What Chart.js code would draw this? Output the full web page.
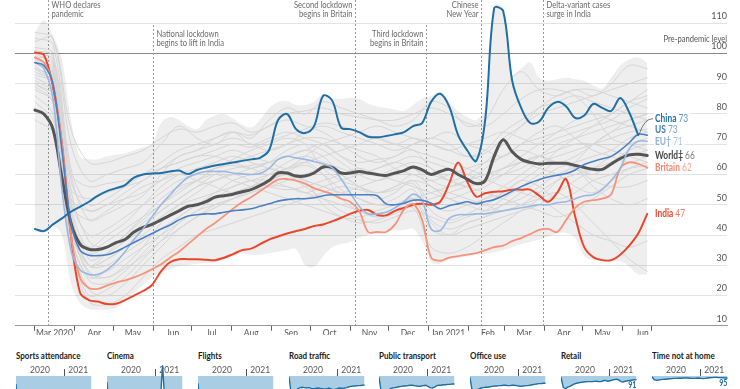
<!DOCTYPE html>
<html>
<head>
<meta charset="utf-8">
<script src="https://cdn.jsdelivr.net/npm/chart.js@4.4.0/dist/chart.umd.min.js"></script>
<style>
  body { margin: 0; width: 740px; height: 389px; overflow: hidden; background: #fff; position: relative;
         font-family: Lato, sans-serif; }
  #main { position: absolute; left: 0; top: 0; }
  .panel { position: absolute; top: 348px; width: 80px; }
  .panel h4 { margin: 0; font-size: 10px; font-weight: bold; color: #1a1a1a; line-height: 14px; white-space: nowrap;
              transform: scaleX(0.8); transform-origin: 0 0; }
  .panel canvas { position: absolute; left: 0; top: 14px; }
</style>
</head>
<body>
<canvas id="main" width="740" height="345"></canvas>
<script>
const FONT = 'Lato, sans-serif';

// days since 1 March 2020, one point a week
const weekDays = Array.from({ length: 69 }, (_, i) => i * 7);
const greyDays = weekDays.filter((d, i) => i % 2 === 0);

const monthDays = [0, 31, 61, 92, 122, 153, 184, 214, 245, 275, 306, 337, 365, 396, 426, 457, 479];
const monthLabels = ['Mar 2020', 'Apr', 'May', 'Jun', 'Jul', 'Aug', 'Sep', 'Oct', 'Nov', 'Dec',
                     'Jan 2021', 'Feb', 'Mar', 'Apr', 'May', 'Jun', ''];
const yTicks = [10, 20, 30, 40, 50, 60, 70, 80, 90, 100, 110];

const eventDays = [10, 92, 248.5, 304, 347, 395];
const eventTexts = [
  ['WHO declares', 'pandemic'],
  ['National lockdown', 'begins to lift in India'],
  ['Second lockdown', 'begins in Britain'],
  ['Third lockdown', 'begins in Britain'],
  ['Chinese', 'New Year'],
  ['Delta-variant cases', 'surge in India']
];

const seriesNames = ['China', 'US', 'EU\u2020', 'World\u2021', 'Britain', 'India'];

const china = [42, 41.3, 43.5, 45.5, 47.7, 49.3, 51, 53, 54.5, 55.5,
  56.5, 59, 60, 60.3, 60.5, 61, 61.3, 60.2, 61.5, 62.3,
  63, 63.5, 64, 64.5, 65, 65.5, 68, 78, 80, 75,
  73.7, 76, 86, 84.5, 75.5, 75, 74, 72.5, 72.3, 72.7,
  73.3, 74, 76, 77, 84, 86.7, 82.5, 73, 68, 64.5,
  78, 115, 114, 91, 82, 77, 77.5, 82, 84, 82.5,
  78.7, 79.5, 83.3, 82, 81, 85.3, 80.5, 73, null];
const us = [97, 96, 90, 68, 44, 35, 33.3, 33.2, 33.5, 34.5,
  36, 37.5, 39, 40.5, 42, 43.3, 45, 46.3, 46.7, 47,
  47, 47.5, 48, 48.3, 48.7, 49.5, 50.3, 51.2, 51.7, 52,
  52, 52.3, 53, 53.3, 53.3, 53.3, 53.3, 53.3, 53, 50.3,
  50, 50.5, 51.5, 51.5, 50.5, 48.7, 49.7, 50.3, 51, 50.3,
  51, 51.7, 53, 54.5, 56, 57.3, 58.3, 59.2, 59.8, 60.3,
  61.5, 63.3, 64.3, 65.2, 66, 68, 70.5, 73.3, 73];
const eu = [97, 95, 85, 55, 35, 28.5, 27, 27, 28.5, 31,
  34.5, 38.5, 42, 46, 50, 53.3, 56.5, 59, 60.3, 61,
  61, 61, 60.5, 60.2, 60, 60.3, 62, 65, 66, 65.5,
  65, 64.3, 63.5, 62.3, 58.5, 54, 49.5, 47, 47, 47.5,
  49, 51, 53.5, 51.5, 42, 41.5, 45.5, 46.7, 46.7, 47,
  47, 47.5, 48, 48.5, 49, 49.5, 50, 50, 50.7, 51,
  52, 53, 53.3, 55, 58, 62, 68.5, 71, 71];
const world = [81.3, 80, 75, 59, 44, 37, 35.3, 35.2, 36, 37.5,
  38.5, 41, 42.5, 43.5, 45, 46.5, 48, 49.5, 50, 51,
  52.5, 53, 53.5, 54.3, 55, 56.3, 58, 60.5, 60.5, 59.5,
  59.5, 60.5, 62.5, 62.3, 60.5, 60.5, 61, 60.5, 60, 59.7,
  60.5, 61.3, 62.5, 61.5, 60, 61, 61.7, 60, 58.5, 57,
  58, 66, 71.5, 67.5, 65, 64, 63.5, 63.7, 63.7, 63.7,
  63, 62.3, 61.7, 61.7, 63.5, 65.3, 66.5, 66.7, 66.3];
const britain = [98.7, 97, 90, 70, 40, 26, 22.5, 22.2, 23.3, 24.3,
  25, 26, 27.2, 28.7, 30.3, 32.5, 34.5, 37, 39.5, 42,
  44, 46.3, 48.7, 50.8, 52.5, 54.5, 56.5, 58.3, 58.5, 58,
  57, 55.5, 54.5, 53.5, 52, 51, 48, 41, 41, 41,
  43.5, 48.5, 50.3, 45, 32.5, 31.5, 32.5, 33, 33.5, 34,
  35, 36, 36.5, 38, 39, 40.3, 41.7, 42, 41, 45,
  49, 51, 51.5, 52, 53.5, 62, 64, 63.5, 62.3];
const india = [100.3, 99.5, 89, 70, 40, 21, 18.5, 18, 17.2, 17.3,
  18.5, 20, 21.5, 23.5, 28, 31, 32, 32, 32, 31.8,
  31.7, 32.5, 33.7, 35, 35.5, 37, 38.5, 39.5, 40.5, 41.3,
  42, 43, 43.5, 44.5, 45.7, 47, 48, 48.3, 46.7, 46.5,
  48, 49, 50, 50.3, 50, 51, 57, 64, 57.7, 52.7,
  53.8, 54.3, 54.5, 55, 55, 55, 53, 51, 54, 58.5,
  46, 36, 32.7, 31.7, 31.7, 33.5, 36.5, 40.5, 47];

// range of all countries
const bandHigh = [107, 111, 106, 98, 78, 66, 65, 65, 66, 66.5,
  67, 68, 69, 70, 77, 79, 78, 76, 75, 78,
  79.5, 80, 78.5, 76.5, 75.5, 78, 82, 84, 84.3, 83,
  83, 84, 86.5, 85, 85, 85.3, 85, 83.5, 82.5, 82,
  81.5, 81, 83, 85, 86, 87.5, 84, 81, 79, 78,
  82, 116, 115, 93, 95, 97, 92, 91, 91.5, 92,
  91.5, 91, 89.5, 88.5, 92, 96, 98, 98.7, 97];
const bandLow = [41, 41, 43, 40, 24, 17.5, 15.5, 15.3, 15.3, 16,
  18, 21, 23.5, 26, 27.5, 28.7, 29.7, 30, 30.5, 30.7,
  31, 32, 33, 34, 33.5, 33.5, 34, 34.5, 35, 35.3,
  30, 29.5, 33, 36, 37, 37.7, 39, 40, 40.5, 41,
  41.5, 41.7, 42, 38, 31, 30.5, 32, 32.5, 33, 33.5,
  33.7, 34.3, 35, 36, 37, 37.7, 38.5, 39.5, 40.5, 40.7,
  39, 33, 31.7, 31.7, 31, 31.5, 29.5, 27, 27];

// other countries, one point a fortnight
const greyLines = [
  [104, 105, 75, 64, 64, 66, 68, 72, 75, 74, 76, 77, 74, 76, 80, 81, 82, 80, 79, 78, 78, 80, 82, 80, 77, 76, 80, 85, 88, 88, 86, 80, 72, 70, 68],
  [100, 98, 60, 45, 47, 50, 53, 60, 66, 68, 72, 74, 70, 72, 74, 72, 70, 66, 64, 65, 66, 70, 72, 70, 66, 67, 72, 76, 80, 82, 84, 86, 88, 90, 92],
  [95, 92, 45, 30, 32, 36, 42, 48, 52, 56, 60, 62, 63, 64, 66, 68, 66, 60, 56, 52, 54, 58, 50, 48, 50, 52, 56, 60, 64, 66, 68, 70, 72, 74, 75],
  [92, 88, 40, 25, 24, 28, 34, 40, 46, 50, 54, 58, 60, 62, 60, 56, 52, 48, 46, 48, 50, 52, 42, 40, 44, 46, 50, 52, 56, 60, 62, 60, 64, 68, 70],
  [98, 95, 50, 35, 38, 42, 46, 50, 55, 58, 62, 64, 66, 68, 70, 72, 72, 70, 68, 66, 62, 60, 58, 60, 62, 64, 66, 70, 72, 74, 76, 78, 80, 84, 86],
  [90, 86, 38, 22, 20, 24, 30, 36, 42, 46, 50, 52, 54, 56, 58, 60, 62, 60, 56, 54, 56, 60, 56, 52, 50, 48, 50, 54, 58, 62, 64, 66, 68, 72, 74],
  [86, 80, 44, 36, 40, 44, 50, 56, 60, 62, 64, 66, 64, 62, 60, 58, 56, 54, 52, 50, 50, 52, 54, 56, 58, 60, 62, 64, 62, 60, 56, 54, 58, 62, 64],
  [96, 90, 35, 18, 17, 20, 26, 32, 36, 40, 42, 44, 46, 48, 50, 52, 54, 56, 55, 54, 56, 58, 56, 52, 50, 52, 54, 58, 56, 52, 54, 58, 60, 62, 63],
  [88, 84, 50, 45, 48, 52, 56, 58, 60, 58, 56, 54, 56, 60, 64, 66, 64, 62, 60, 62, 64, 66, 64, 62, 60, 58, 60, 62, 66, 70, 72, 74, 76, 78, 80],
  [102, 100, 55, 38, 36, 40, 45, 50, 54, 58, 62, 65, 68, 70, 72, 70, 62, 58, 56, 54, 55, 57, 48, 45, 47, 50, 54, 58, 62, 68, 72, 76, 80, 84, 88],
  [94, 90, 42, 28, 26, 30, 36, 44, 50, 54, 58, 60, 58, 56, 55, 56, 58, 60, 62, 60, 58, 56, 54, 52, 54, 56, 60, 64, 66, 64, 62, 58, 56, 56, 58],
  [84, 78, 55, 52, 54, 56, 58, 62, 66, 68, 70, 72, 70, 68, 70, 74, 76, 74, 72, 70, 68, 70, 72, 74, 70, 68, 66, 70, 74, 76, 72, 68, 66, 64, 66],
  [100, 96, 46, 30, 30, 34, 38, 42, 46, 50, 52, 56, 58, 60, 62, 64, 60, 52, 48, 46, 48, 52, 44, 40, 42, 44, 46, 48, 50, 54, 58, 62, 66, 70, 72],
  [78, 74, 52, 48, 50, 52, 54, 58, 62, 64, 66, 68, 66, 64, 62, 64, 66, 68, 70, 72, 70, 68, 66, 64, 62, 60, 62, 64, 66, 68, 70, 70, 68, 66, 64],
  [97, 94, 48, 32, 34, 38, 44, 48, 52, 56, 58, 60, 62, 64, 66, 68, 70, 66, 62, 60, 62, 64, 62, 58, 56, 58, 62, 66, 70, 74, 78, 80, 78, 76, 74],
  [90, 85, 40, 26, 28, 32, 36, 40, 44, 48, 50, 52, 54, 56, 56, 54, 52, 50, 48, 46, 48, 50, 52, 54, 56, 58, 56, 54, 52, 48, 44, 40, 38, 36, 38],
  [95, 90, 45, 30, 32, 36, 40, 45, 48, 50, 52, 54, 56, 58, 60, 58, 56, 54, 56, 58, 60, 62, 56, 54, 52, 50, 48, 50, 52, 54, 50, 44, 38, 32, 28],
  [107, 105, 70, 58, 60, 62, 64, 70, 76, 72, 70, 74, 72, 78, 82, 80, 84, 82, 80, 78, 76, 78, 84, 82, 76, 78, 88, 94, 88, 86, 88, 86, 90, 96, 95],
  [99, 97, 52, 40, 42, 46, 50, 54, 58, 60, 62, 63, 62, 64, 68, 70, 68, 64, 60, 58, 60, 62, 58, 56, 58, 62, 66, 68, 66, 64, 66, 70, 74, 78, 80],
  [93, 90, 36, 20, 22, 26, 32, 38, 44, 48, 52, 54, 56, 58, 60, 58, 50, 46, 44, 45, 47, 49, 36, 34, 36, 40, 44, 48, 52, 58, 64, 70, 74, 76, 78],
  [101, 99, 58, 48, 50, 54, 58, 62, 64, 66, 68, 70, 69, 71, 73, 75, 77, 76, 74, 72, 70, 72, 70, 68, 66, 68, 74, 78, 82, 84, 86, 84, 82, 80, 78],
  [89, 84, 42, 30, 34, 40, 46, 52, 56, 58, 60, 58, 56, 54, 52, 50, 48, 46, 45, 44, 46, 48, 46, 44, 46, 48, 52, 56, 60, 64, 62, 56, 52, 50, 52],
  [105, 103, 62, 50, 52, 56, 60, 64, 68, 70, 72, 74, 73, 76, 78, 76, 74, 70, 66, 64, 66, 68, 62, 58, 60, 64, 70, 76, 82, 86, 88, 88, 86, 84, 82],
  [91, 87, 46, 34, 36, 38, 42, 46, 50, 52, 54, 56, 58, 58, 56, 54, 56, 58, 60, 62, 64, 62, 60, 58, 56, 54, 52, 50, 48, 46, 48, 52, 56, 60, 62],
  [97, 93, 44, 27, 26, 29, 33, 38, 42, 46, 49, 52, 55, 58, 61, 63, 60, 55, 52, 50, 52, 55, 45, 42, 44, 46, 48, 50, 54, 58, 60, 62, 64, 66, 68],
  [82, 76, 60, 56, 57, 58, 60, 62, 64, 66, 66, 64, 62, 60, 62, 66, 70, 72, 74, 76, 74, 72, 70, 68, 70, 72, 74, 72, 70, 72, 74, 76, 78, 82, 85]
];

// small multiples, one point a fortnight, 100 = pre-pandemic
const panelNames = ['Sports attendance', 'Cinema', 'Flights', 'Road traffic', 'Public transport', 'Office use', 'Retail', 'Time not at home'];
const panelValues = [
  [80, 5, 0, 0, 0, 2, 4, 6, 8, 10, 12, 10, 8, 6, 5, 4, 4, 3, 3, 3, 4, 5, 6, 8, 10, 12, 15, 18, 22, 26, 30, 34, 38, 42, 45],
  [85, 10, 0, 0, 0, 2, 5, 8, 12, 15, 18, 20, 22, 20, 18, 15, 12, 10, 10, 12, 15, 20, 25, 30, 35, 127, 40, 45, 50, 45, 40, 45, 50, 55, 60],
  [82, 20, 5, 3, 4, 6, 10, 15, 20, 25, 28, 30, 32, 30, 28, 25, 24, 25, 28, 26, 24, 26, 25, 24, 26, 28, 30, 34, 38, 42, 45, 48, 52, 55, 58],
  [98, 55, 50, 62, 68, 71, 72, 71, 70, 71, 69, 68, 69, 70, 69, 68, 67, 68, 70, 68, 66, 67, 69, 70, 69, 70, 71, 73, 74, 75, 75, 76, 76, 77, 77],
  [97, 60, 55, 60, 65, 68, 70, 71, 72, 73, 74, 75, 75, 76, 77, 77, 76, 75, 74, 75, 76, 77, 74, 71, 70, 72, 76, 77, 77, 78, 78, 79, 79, 80, 80],
  [96, 62, 60, 65, 68, 70, 71, 72, 72, 73, 74, 75, 75, 76, 76, 77, 77, 76, 76, 77, 77, 76, 75, 74, 75, 76, 76, 77, 78, 79, 80, 81, 81, 82, 82],
  [97, 72, 68, 72, 74, 77, 80, 82, 83, 84, 85, 85.5, 86, 86, 86, 86.5, 87, 86, 86, 88, 89, 87, 88, 90, 91, 92, 90, 86, 85, 87, 88, 89, 90, 90.5, 91],
  [98, 91, 89, 90, 91, 91.5, 92, 92.5, 93, 93.5, 94, 94, 94.5, 94.5, 95, 95, 95, 94.5, 94, 94, 94.5, 95, 94, 93.5, 94, 95, 95.5, 96, 96.5, 96.5, 96, 96, 95.5, 95, 95]
];
const panelShowEnd = [false, false, false, false, false, false, true, true];
const yearTickDays = [151, 306, 392];
const yearLabels = ['2020', '', '2021'];

const pts = (days, vals) => vals.map((v, i) => ({ x: days[i], y: v }));
const noPad = s => { s.paddingTop = 0; s.paddingBottom = 0; s.paddingLeft = 0; s.paddingRight = 0; };

// narrow text, the original face is condensed
const SX = 0.8;
function narrowText(ctx, text, x, y, align) {
  ctx.save();
  ctx.translate(x, y);
  ctx.scale(SX, 1);
  ctx.textAlign = align;
  ctx.fillText(text, 0, 0);
  ctx.restore();
}

const lineColors = ['#1f6fa6', '#4a7fc1', '#9ab8e2', '#555555', '#f7937a', '#e9472d'];
const nameColors = ['#1f6fa6', '#3f77bd', '#8fb0de', '#444444', '#f4876c', '#e9472d'];
const valueColors = ['#5b95c4', '#7ea3d2', '#a9c3e6', '#808080', '#f6a48f', '#ef7c66'];
const lineWidths = [2, 1.6, 1.6, 3, 1.8, 2];
const allSeries = [china, us, eu, world, britain, india];

const datasets = [];
allSeries.forEach((vals, i) => datasets.push({
  data: pts(weekDays, vals), borderColor: lineColors[i], borderWidth: lineWidths[i], order: i + 1
}));
greyLines.forEach(g => datasets.push({ data: pts(greyDays, g), borderColor: '#d5d5d5', borderWidth: 1, order: 50 }));
datasets.push({ data: pts(weekDays, bandHigh), borderColor: 'rgba(0,0,0,0)', borderWidth: 0,
  backgroundColor: 'rgba(0,0,0,0.065)', fill: '+1', order: 100 });
datasets.push({ data: pts(weekDays, bandLow), borderColor: 'rgba(0,0,0,0)', borderWidth: 0, fill: false, order: 101 });

const mainDecor = {
  id: 'mainDecor',
  beforeDatasetsDraw(chart) {
    const { ctx, scales: { x, y } } = chart;
    const startY = [0, 25, 0, 25, 0, 0];
    ctx.save();
    ctx.strokeStyle = '#9a9a9a';
    ctx.lineWidth = 1;
    ctx.setLineDash([2, 2]);
    eventDays.forEach((d, i) => {
      const px = Math.round(x.getPixelForValue(d)) + 0.5;
      ctx.beginPath();
      ctx.moveTo(px, startY[i]);
      ctx.lineTo(px, y.bottom);
      ctx.stroke();
    });
    ctx.restore();
  },
  afterDatasetsDraw(chart) {
    const { ctx, scales: { x, y } } = chart;
    ctx.save();
    // event notes
    const side = ['r', 'r', 'l', 'l', 'l', 'r'];
    const rowY = [[4.5, 13.5], [33.5, 43], [4.5, 13.5], [33.5, 43], [4.5, 13.5], [4.5, 13.5]];
    ctx.font = '9.5px ' + FONT;
    ctx.fillStyle = '#6a6a6a';
    ctx.textBaseline = 'middle';
    eventDays.forEach((d, i) => {
      const px = Math.round(x.getPixelForValue(d)) + 0.5;
      const right = side[i] === 'r';
      eventTexts[i].forEach((t, j) => narrowText(ctx, t, right ? px + 3 : px - 3, rowY[i][j], right ? 'left' : 'right'));
    });
    ctx.fillStyle = '#555';
    narrowText(ctx, 'Pre-pandemic level', 727, y.getPixelForValue(100) - 15, 'right');

    // end labels, pushed apart from the bottom up
    const last = allSeries.map(v => v.filter(d => d != null).slice(-1)[0]);
    const ys = last.map(v => y.getPixelForValue(v));
    const idx = ys.map((_, i) => i).sort((a, b) => ys[a] - ys[b] || a - b);
    for (let k = idx.length - 2; k >= 0; k--) {
      const a = idx[k], b = idx[k + 1];
      if (ys[b] - ys[a] < 11.3) ys[a] = ys[b] - 11.3;
    }
    const lx = 655;
    seriesNames.forEach((name, i) => {
      ctx.font = 'bold 10.5px ' + FONT;
      const w1 = ctx.measureText(name + ' ').width * SX;
      ctx.font = '10.5px ' + FONT;
      const val = String(Math.round(last[i]));
      const w2 = ctx.measureText(val).width * SX;
      ctx.fillStyle = '#fff';
      ctx.fillRect(lx - 1, ys[i] - 6, w1 + w2 + 3, 12);
      ctx.font = 'bold 10.5px ' + FONT;
      ctx.fillStyle = nameColors[i];
      narrowText(ctx, name, lx, ys[i], 'left');
      ctx.font = '10.5px ' + FONT;
      ctx.fillStyle = valueColors[i];
      narrowText(ctx, val, lx + w1, ys[i], 'left');
    });
    // China connector
    const meta = chart.getDatasetMeta(0);
    const lastPt = meta.data.filter(p => !p.skip).slice(-1)[0];
    if (lastPt) {
      ctx.strokeStyle = '#555';
      ctx.lineWidth = 0.8;
      ctx.beginPath();
      ctx.moveTo(lastPt.x + 1, lastPt.y - 1);
      ctx.quadraticCurveTo(lastPt.x + 6, ys[0], lx - 2, ys[0]);
      ctx.stroke();
    }
    ctx.restore();
  }
};

new Chart(document.getElementById('main'), {
  type: 'line',
  data: { datasets },
  options: {
    responsive: false,
    animation: false,
    events: [],
    layout: { padding: { left: 15, right: 13, top: 0, bottom: 10 } },
    elements: {
      point: { radius: 0 },
      line: { tension: 0.35, borderJoinStyle: 'round', borderCapStyle: 'round', fill: false }
    },
    plugins: { legend: { display: false }, tooltip: { enabled: false } },
    scales: {
      x: {
        type: 'linear', min: -15.5, max: 538,
        afterBuildTicks: ax => { ax.ticks = monthDays.map(v => ({ value: v })); },
        afterFit: noPad,
        grid: { drawOnChartArea: false, drawTicks: true, tickLength: 5, color: '#666' },
        border: { color: '#999' },
        ticks: {
          autoSkip: false, maxRotation: 0, labelOffset: 19.5, padding: -3, color: '#555',
          font: { family: FONT, size: 8.5 },
          callback: (v, i) => monthLabels[i]
        }
      },
      y: {
        position: 'right', min: 10, max: 117.67,
        afterBuildTicks: ax => { ax.ticks = yTicks.map(v => ({ value: v })); },
        afterFit: noPad,
        grid: { drawTicks: false, color: c => (c.tick && c.tick.value === 100 ? '#8a8a8a' : '#e3e3e3') },
        border: { display: false },
        ticks: { autoSkip: false, mirror: true, padding: 0, labelOffset: -7, color: '#555', font: { family: FONT, size: 9 } }
      }
    }
  },
  plugins: [mainDecor]
});

const endLabel = {
  id: 'endLabel',
  afterDatasetsDraw(chart, args, opts) {
    if (!opts.show) return;
    const { ctx } = chart;
    const meta = chart.getDatasetMeta(0);
    const p = meta.data[meta.data.length - 1];
    const d = chart.data.datasets[0].data;
    ctx.save();
    ctx.font = 'bold 9px ' + FONT;
    ctx.fillStyle = '#1f6fa6';
    ctx.textBaseline = 'top';
    narrowText(ctx, String(Math.round(d[d.length - 1].y)), p.x, p.y + 1, 'right');
    ctx.restore();
  }
};

panelNames.forEach((name, i) => {
  const div = document.createElement('div');
  div.className = 'panel';
  div.style.left = (16 + i * 90.86).toFixed(1) + 'px';
  div.innerHTML = '<h4>' + name + '</h4><canvas width="78" height="54"></canvas>';
  document.body.appendChild(div);
  new Chart(div.querySelector('canvas'), {
    type: 'line',
    data: {
      datasets: [{
        data: pts(greyDays, panelValues[i]), borderColor: '#1f6fa6', borderWidth: 1.4,
        backgroundColor: '#a9cde3', fill: { value: 100 }, pointRadius: 0, tension: 0, clip: false
      }]
    },
    options: {
      responsive: false, animation: false, events: [],
      layout: { padding: { left: 0, right: 2, top: 2, bottom: 0 } },
      plugins: { legend: { display: false }, tooltip: { enabled: false }, endLabel: { show: panelShowEnd[i] } },
      scales: {
        x: {
          type: 'linear', position: 'top', min: 0, max: 479,
          afterBuildTicks: ax => { ax.ticks = yearTickDays.map(v => ({ value: v })); },
          afterFit: s => { noPad(s); s.height = 12; },
          grid: { drawOnChartArea: false, tickLength: 7, color: c => (c.index === 1 ? '#555' : 'rgba(0,0,0,0)') },
          border: { display: false },
          ticks: { autoSkip: false, maxRotation: 0, padding: -6, color: '#555', font: { family: FONT, size: 8.5 },
                   callback: (v, k) => yearLabels[k] }
        },
        y: { min: 0, max: 100, display: false }
      }
    },
    plugins: [endLabel]
  });
});
</script>
</body>
</html>
